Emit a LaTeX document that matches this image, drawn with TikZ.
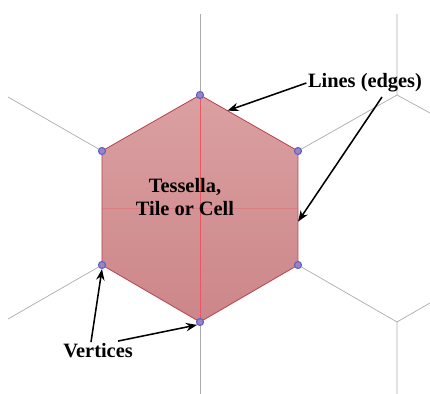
\documentclass[tikz,border=0pt]{standalone}
\usepackage{fontspec}
\setmainfont{Liberation Serif}
\usetikzlibrary{arrows.meta,positioning,calc}
\definecolor{TileTop}{RGB}{219,160,162}
\definecolor{TileBottom}{RGB}{204,134,137}
\definecolor{TileEdge}{RGB}{185,70,78}
\definecolor{TileAxis}{RGB}{232,88,98}
\definecolor{DotBlue}{RGB}{90,100,205}
\definecolor{DotFill}{RGB}{160,130,190}
\tikzset{
  grid/.style={draw=gray!65,line width=0.5pt},
  tile/.style={draw=TileEdge,line width=0.6pt,top color=TileTop,bottom color=TileBottom},
  axis/.style={draw=TileAxis,line width=0.4pt},
  vertex/.style={circle,draw=DotBlue,fill=DotFill,line width=0.8pt,
    minimum size=5pt,inner sep=0pt},
  label/.style={font=\bfseries\fontsize{14.5}{16.5}\selectfont,align=center,inner sep=1pt},
  arrow/.style={-Stealth,line width=1.1pt,black}
}

\begin{document}
\begin{tikzpicture}[x=0.025cm,y=-0.025cm]
  \useasboundingbox (0,0) rectangle (430,394);
  % corners of the tile
  \coordinate (t) at (200,95);
  \coordinate (ur) at (298,151);
  \coordinate (lr) at (298,265);
  \coordinate (b) at (200,322);
  \coordinate (ll) at (102,265);
  \coordinate (ul) at (102,151);
  \coordinate (nu) at (397,95);
  \coordinate (nd) at (397,322);
  % neighbouring tiles
  \draw[grid] (t) -- (200,14);
  \draw[grid] (b) -- (200,394);
  \draw[grid] (ul) -- (8,97);
  \draw[grid] (ll) -- (8,319);
  \draw[grid] (ur) -- (nu) -- (397,14);
  \draw[grid] (nu) -- (430,113);
  \draw[grid] (lr) -- (nd) -- (397,394);
  \draw[grid] (nd) -- (430,303);
  % the tile
  \draw[tile] (t) -- (ur) -- (lr) -- (b) -- (ll) -- (ul) -- cycle;
  \draw[axis] (t) -- (b);
  \draw[axis,draw opacity=0.35] (ul |- 0,208) -- (ur |- 0,208);
  \foreach \v in {t,ur,lr,b,ll,ul}
    \node[vertex] (d\v) at (\v) {};
  % labels
  \node[label] (cell) at (185,197) {Tessella,\\Tile or Cell};
  \node[label] (lines) at (365,83) {Lines (edges)};
  \node[label] (vert) at (98,351) {Vertices};
  \draw[arrow] (lines.west) -- ($(t)!0.28!(ur)$);
  \draw[arrow] ($(lines.south)+(17,3)$) -- ($(ur)!0.62!(lr)$);
  \draw[arrow] ($(vert.north)+(-7,0)$) -- (dll.south);
  \draw[arrow] ($(vert.north)+(20,-1)$) -- (db.south west);
\end{tikzpicture}
\end{document}
